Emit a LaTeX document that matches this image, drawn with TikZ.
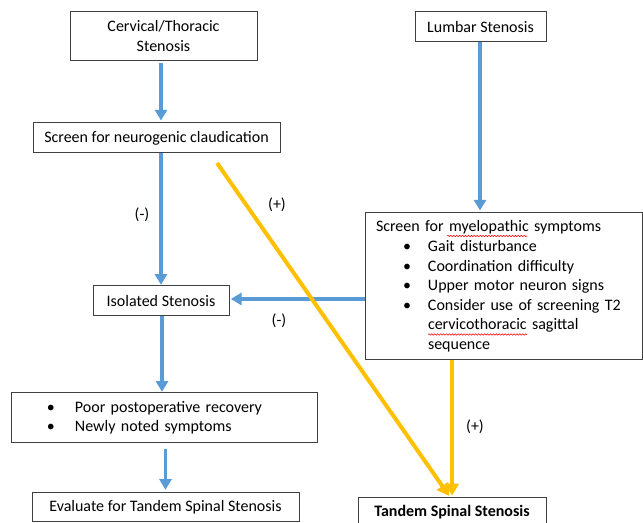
\documentclass[tikz,border=0pt]{standalone}
\usepackage{fontspec}
\setmainfont{Carlito}
\usetikzlibrary{arrows.meta,decorations.pathmorphing}
\definecolor{oblue}{RGB}{91,155,213}
\definecolor{oyellow}{RGB}{255,192,0}
\definecolor{bordergray}{RGB}{64,64,64}
\newcommand\mybul[1]{\hspace*{20.25pt}\makebox[18.75pt][l]{\textbullet}#1}
\newcommand\mycont[1]{\hspace*{39pt}#1}
\newcommand\pbul[1]{\hspace*{27pt}\makebox[21pt][l]{\textbullet}#1}
\begin{document}
\begin{tikzpicture}[x=0.75pt,y=-0.75pt,
  box/.style={draw=bordergray, line width=0.75pt, fill=white, inner sep=0pt,
    font=\fontsize{12}{15}\selectfont, align=center},
  bluearrow/.style={draw=oblue, line width=2.4pt,
    -{Triangle[width=9pt,length=8pt]}},
  yellowarrow/.style={draw=oyellow, line width=3pt,
    -{Triangle[width=10pt,length=9pt]}},
  lbl/.style={font=\fontsize{12}{13}\selectfont, inner sep=0pt},
  squiggle/.style={draw=red, line width=0.4pt, decorate,
    decoration={snake, amplitude=0.55pt, segment length=2.2pt}}]
\useasboundingbox (0,0) rectangle (643,523);

% boxes
\node[box, minimum width=140.25pt, minimum height=36.75pt] (cerv) at (163.5,36.5)
  {Cervical/Thoracic\\Stenosis};
\node[box, minimum width=98.25pt, minimum height=22.5pt] (lumbar) at (480.5,27)
  {Lumbar Stenosis};
\node[box, minimum width=185.25pt, minimum height=22.5pt] (neuro) at (156.5,138)
  {Screen for neurogenic claudication};
\node[box, minimum width=102pt, minimum height=22.5pt] (iso) at (161,301)
  {Isolated Stenosis};
\node[box, minimum width=207.75pt, minimum height=110.25pt, text width=191.25pt,
  inner xsep=8.25pt, align=left, font=\fontsize{12}{14.7}\selectfont] (myelo) at (503.5,286.5)
  {Screen for myelopathic symptoms\\
   \mybul{Gait disturbance}\\
   \mybul{Coordination difficulty}\\
   \mybul{Upper motor neuron signs}\\
   \mybul{Consider use of screening T2}\\
   \mycont{cervicothoracic sagittal}\\
   \mycont{sequence}};
\node[box, minimum width=229.5pt, minimum height=37.5pt, text width=229.5pt,
  align=left, font=\fontsize{12}{14.25}\selectfont] (poor) at (164,418)
  {\pbul{Poor postoperative recovery}\\
   \pbul{Newly noted symptoms}};
\node[box, minimum width=200.25pt, minimum height=21.75pt] (eval) at (165.5,507.5)
  {Evaluate for Tandem Spinal Stenosis};
\node[box, anchor=north, minimum width=141pt, inner ysep=5pt, text height=9pt,
  text depth=12pt, font=\fontsize{12}{13}\selectfont\bfseries] (tandem) at (452,497)
  {Tandem Spinal Stenosis};

% spell-check squiggles
\draw[squiggle] (447,236) -- (527,236);
\draw[squiggle] (428,334.5) -- (527,334.5);

% blue connectors
\draw[bluearrow, shorten <=1.5pt, shorten >=1.5pt] (cerv.south -| 161,0) -- (neuro.north -| 161,0);
\draw[bluearrow, shorten >=1.5pt] (lumbar.south -| 480,0) -- (myelo.north -| 480,0);
\draw[bluearrow, shorten >=0.5pt] (neuro.south -| iso.north) -- (iso.north);
\draw[bluearrow, shorten >=1pt] (myelo.west |- 0,299) -- (iso.east |- 0,299);
\draw[bluearrow, shorten >=0.5pt] (iso.south -| 162,0) -- (poor.north -| 162,0);
\draw[bluearrow, shorten <=4.5pt, shorten >=2pt] (poor.south -| eval.north) -- (eval.north);

% yellow connectors
\coordinate (ystart) at (217,163);
\draw[yellowarrow, shorten >=1pt] (ystart) -- ([xshift=-1.5pt]tandem.north);
\draw[yellowarrow, shorten >=1pt] (myelo.south -| tandem.north) -- (tandem.north);

% labels
\node[lbl] (m1) at (142,215) {(-)};
\node[lbl] (p1) at (277,205) {(+)};
\node[lbl] (m2) at (279,321) {(-)};
\node[lbl] (p2) at (475,427) {(+)};
\end{tikzpicture}
\end{document}
